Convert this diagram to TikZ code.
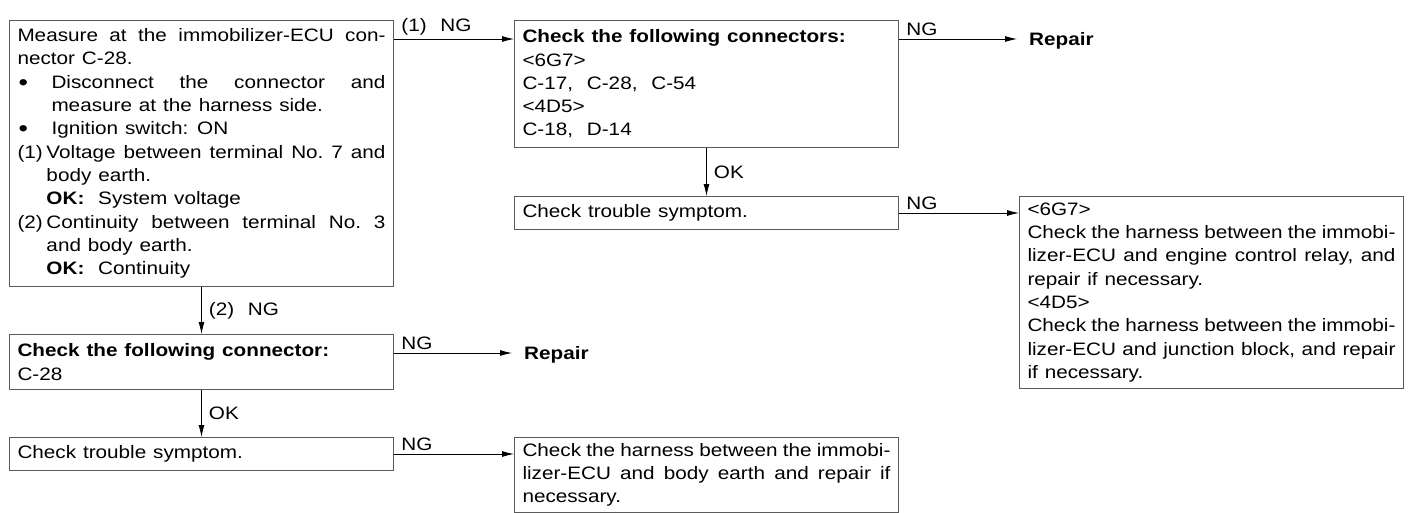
\documentclass[tikz,border=0pt]{standalone}
\usepackage{fontspec}
\setmainfont{Liberation Sans}[FakeStretch=1.15, WordSpace=1.2]
\usetikzlibrary{arrows.meta,positioning,calc}
\definecolor{boxgray}{RGB}{90,90,90}

\newcommand{\hitem}[2]{\par\hangindent=#1\hangafter=1\makebox[#1][l]{#2}}
\newcommand{\okline}[1]{\par\hspace*{29pt}\textbf{OK:}\ \ #1}
\newcommand{\bul}{\hspace*{1pt}\raisebox{-2pt}{\scalebox{1.3}{\textbullet}}}

\begin{document}
\begin{tikzpicture}[
  x=1pt, y=-1pt,
  every node/.style={font=\fontsize{18pt}{23.3pt}\selectfont},
  box/.style={rectangle, draw=boxgray, line width=1pt, anchor=north west,
    minimum width=384pt, text width=368pt, inner xsep=8pt, inner ysep=4pt,
    align=justify, execute at begin node={\parindent=0pt}},
  arr/.style={-{Latex[length=12pt,width=6pt]}, line width=0.8pt},
  lbl/.style={inner xsep=7pt, inner ysep=3pt},
  rep/.style={font=\fontsize{18pt}{23.3pt}\selectfont\bfseries,
    anchor=west, inner xsep=12pt, inner ysep=0pt, text depth=0pt},
]
\useasboundingbox (0,0) rectangle (1408,512);

% Measurement box
\node[box, minimum height=266pt] (meas) at (9,20)
  {Measure at the immobilizer-ECU con-\linebreak nector C-28.%
   \hitem{34pt}{\bul}Disconnect the connector and\linebreak measure at the harness side.%
   \hitem{34pt}{\bul}Ignition switch: ON%
   \hitem{29pt}{(1)}Voltage between terminal No.~7 and\linebreak body earth.%
   \okline{System voltage}%
   \hitem{29pt}{(2)}Continuity between terminal No.~3\linebreak and body earth.%
   \okline{Continuity}};

% Connector checks
\node[box, minimum height=127pt, right=120pt of meas.north east, anchor=north west] (conns)
  {\textbf{Check the following connectors:}\par
   <6G7>\par
   C-17,\ \ C-28,\ \ C-54\par
   <4D5>\par
   C-18,\ \ D-14};

\node[box, minimum height=33pt, below=48pt of conns.south west, anchor=north west] (sym1)
  {Check trouble symptom.};

\node[box, minimum height=192pt, right=120pt of sym1.north east, anchor=north west] (harn1)
  {<6G7>\par
   Check the harness between the immobi-\linebreak lizer-ECU and engine control relay, and\linebreak repair if necessary.\par
   <4D5>\par
   Check the harness between the immobi-\linebreak lizer-ECU and junction block, and repair\linebreak if necessary.};

% Single connector branch
\node[box, minimum height=55pt, below=47pt of meas.south west, anchor=north west] (conn2)
  {\textbf{Check the following connector:}\par C-28};

\node[box, minimum height=33pt, below=47pt of conn2.south west, anchor=north west] (sym2)
  {Check trouble symptom.};

\node[box, minimum height=75pt, right=120pt of sym2.north east, anchor=north west] (harn2)
  {Check the harness between the immobi-\linebreak lizer-ECU and body earth and repair if\linebreak necessary.};

% Repair ends
\path (conns.north east) ++(0,19) coordinate (c1);
\path (conn2.north east) ++(0,19) coordinate (c2);
\node[rep, right=118pt of c1] (rep1) {Repair};
\node[rep, right=118pt of c2] (rep2) {Repair};

% Connectors
\path (meas.north east) ++(0,19) coordinate (m1);
\draw[arr] (m1) -- (m1 -| conns.west) node[lbl, pos=0, above right] {(1)\ \ NG};
\draw[arr] (c1) -- (rep1.west) node[lbl, pos=0, above right] {NG};
\draw[arr] (conns) -- (sym1) node[lbl, midway, right] {OK};
\draw[arr] (sym1) -- (sym1 -| harn1.west) node[lbl, pos=0, above right] {NG};
\draw[arr] (meas) -- (conn2) node[lbl, midway, right] {(2)\ \ NG};
\draw[arr] (c2) -- (rep2.west) node[lbl, pos=0, above right] {NG};
\draw[arr] (conn2) -- (sym2) node[lbl, midway, right] {OK};
\draw[arr] (sym2) -- (sym2 -| harn2.west) node[lbl, pos=0, above right] {NG};
\end{tikzpicture}
\end{document}
